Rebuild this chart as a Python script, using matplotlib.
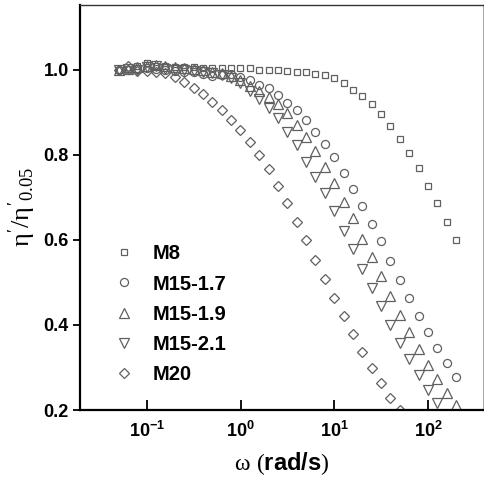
import matplotlib
matplotlib.use("Agg")
import matplotlib.pyplot as plt

# angular frequency sweep, 10 points per decade from 0.05 to 200 rad/s
omega = [0.05, 0.0629, 0.0792, 0.0997, 0.126, 0.158, 0.199, 0.251, 0.315, 0.397,
         0.5, 0.629, 0.792, 0.997, 1.26, 1.58, 1.99, 2.51, 3.15, 3.97,
         5.0, 6.29, 7.92, 9.97, 12.6, 15.8, 19.9, 25.1, 31.5, 39.7,
         50.0, 62.9, 79.2, 99.7, 126, 158, 199]

m8 = [1.0, 1.003, 1.008, 1.015, 1.01, 1.008, 1.007, 1.006, 1.006, 1.005,
      1.004, 1.005, 1.005, 1.004, 1.004, 1.0, 1.0, 1.0, 0.998, 0.996,
      0.994, 0.991, 0.987, 0.98, 0.968, 0.953, 0.938, 0.92, 0.896, 0.868,
      0.838, 0.805, 0.768, 0.727, 0.686, 0.642, 0.601]
m15_17 = [1.0, 1.0, 1.003, 1.005, 1.002, 1.0, 0.998, 0.996, 0.994, 0.99,
          0.985, 0.988, 0.99, 0.984, 0.975, 0.964, 0.957, 0.942, 0.923, 0.906,
          0.882, 0.854, 0.826, 0.795, 0.758, 0.719, 0.68, 0.638, 0.598, 0.551,
          0.506, 0.464, 0.421, 0.383, 0.345, 0.31, 0.278]
m15_19 = [1.0, 1.003, 1.006, 1.01, 1.012, 1.008, 1.006, 1.004, 1.002, 1.0,
          0.996, 0.992, 0.986, 0.976, 0.962, 0.951, 0.937, 0.919, 0.898, 0.871,
          0.841, 0.808, 0.772, 0.733, 0.69, 0.651, 0.602, 0.56, 0.515, 0.468,
          0.424, 0.383, 0.344, 0.307, 0.273, 0.241, 0.212]
m15_21 = [1.0, 1.002, 1.0, 1.006, 1.01, 1.003, 1.0, 0.999, 0.998, 0.996,
          0.993, 0.988, 0.982, 0.97, 0.951, 0.932, 0.91, 0.886, 0.855, 0.824,
          0.784, 0.747, 0.71, 0.667, 0.622, 0.578, 0.531, 0.486, 0.445, 0.4,
          0.357, 0.32, 0.282, 0.248, 0.216]
m20 = [1.0, 1.008, 0.998, 0.998, 0.996, 0.992, 0.984, 0.971, 0.957, 0.943,
       0.925, 0.906, 0.882, 0.859, 0.831, 0.8, 0.766, 0.728, 0.686, 0.643,
       0.6, 0.553, 0.508, 0.464, 0.42, 0.378, 0.337, 0.3, 0.263, 0.228,
       0.2]

labels = ["M8", "M15-1.7", "M15-1.9", "M15-2.1", "M20"]
series = [m8, m15_17, m15_19, m15_21, m20]
markers = ["s", "o", "^", "v", "D"]
msizes = [5.0, 5.8, 6.6, 6.6, 5.6]

xticks = [0.1, 1, 10, 100]
xtick_labels = [r"$\mathbf{10^{-1}}$", r"$\mathbf{10^{0}}$",
                r"$\mathbf{10^{1}}$", r"$\mathbf{10^{2}}$"]
yticks = [0.2, 0.4, 0.6, 0.8, 1.0]

plt.rcParams["font.family"] = "Liberation Sans"
plt.rcParams["mathtext.fontset"] = "custom"
plt.rcParams["mathtext.rm"] = "Liberation Serif:normal"
plt.rcParams["mathtext.it"] = "Liberation Serif:normal"
plt.rcParams["mathtext.bf"] = "Liberation Sans:bold"

fig = plt.figure(figsize=(4.84, 4.79), dpi=100)
ax = fig.add_axes([0.165, 0.144, 0.833, 0.846])

for vals, lab, mk, ms in zip(series, labels, markers, msizes):
    ax.plot(omega[:len(vals)], vals, linestyle="none", marker=mk, ms=ms,
            mfc="none", mec="#606060", mew=0.9, label=lab)

ax.set_xscale("log")
ax.set_xlim(0.0193, 386)
ax.set_ylim(0.2, 1.153)
ax.set_xticks(xticks)
ax.set_xticklabels(xtick_labels, fontsize=13)
ax.minorticks_off()
ax.set_yticks(yticks)
ax.set_yticklabels(["%.1f" % v for v in yticks], fontsize=13, fontweight="bold")

ax.tick_params(axis="x", direction="in", length=7, width=1.3, pad=8)
ax.tick_params(axis="y", direction="out", length=5, width=1.3, pad=3)

for side in ["left", "bottom"]:
    ax.spines[side].set_linewidth(1.6)
    ax.spines[side].set_color("black")
ax.spines["top"].set_linewidth(1.0)
ax.spines["top"].set_color("#333333")
ax.spines["right"].set_linewidth(0.8)
ax.spines["right"].set_color("#aaaaaa")

ax.set_xlabel(r"$\omega$ $\mathrm{(}\mathbf{rad/s}\mathrm{)}$", fontsize=17, labelpad=6)
ax.set_ylabel(r"$\eta'/\eta'_{0.05}$", fontsize=19, labelpad=4)

leg = ax.legend(loc="lower left", bbox_to_anchor=(0.065, 0.045), frameon=False,
                prop={"size": 14.5, "weight": "bold"}, handlelength=1.0,
                handletextpad=0.9, labelspacing=0.55, borderaxespad=0)

fig.savefig("out.png", dpi=100)
